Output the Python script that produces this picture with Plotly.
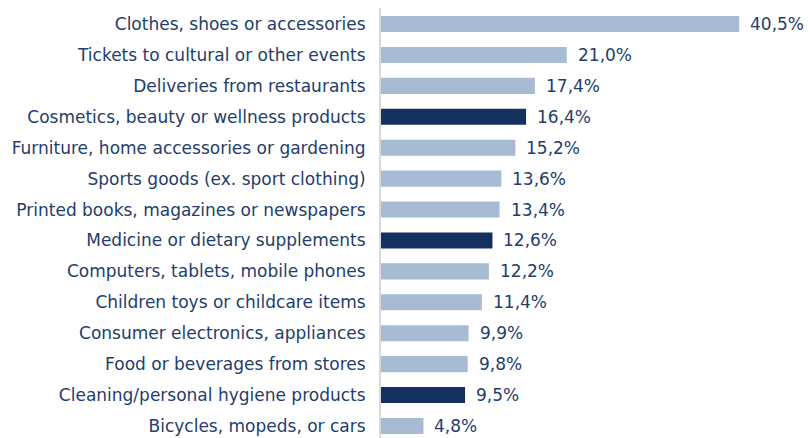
import plotly.graph_objects as go

categories = [
    "Clothes, shoes or accessories",
    "Tickets to cultural or other events",
    "Deliveries from restaurants",
    "Cosmetics, beauty or wellness products",
    "Furniture, home accessories or gardening",
    "Sports goods (ex. sport clothing)",
    "Printed books, magazines or newspapers",
    "Medicine or dietary supplements",
    "Computers, tablets, mobile phones",
    "Children toys or childcare items",
    "Consumer electronics, appliances",
    "Food or beverages from stores",
    "Cleaning/personal hygiene products",
    "Bicycles, mopeds, or cars",
]
values = [40.5, 21.0, 17.4, 16.4, 15.2, 13.6, 13.4, 12.6, 12.2, 11.4, 9.9, 9.8, 9.5, 4.8]
highlighted = [
    "Cosmetics, beauty or wellness products",
    "Medicine or dietary supplements",
    "Cleaning/personal hygiene products",
]

LIGHT = "#a7bbd4"
DARK = "#14305f"
TEXT = "#233d6c"
FONT = "DejaVu Sans"

colors = [DARK if c in highlighted else LIGHT for c in categories]
labels = [f"{v:.1f}%".replace(".", ",") for v in values]

fig = go.Figure(
    go.Bar(
        x=values,
        y=categories,
        orientation="h",
        marker=dict(color=colors, line=dict(width=0)),
        width=0.52,
        hoverinfo="skip",
    )
)

for c, v, t in zip(categories, values, labels):
    fig.add_annotation(
        x=v, y=c, text=t, showarrow=False, xanchor="left", xshift=9,
        font=dict(family=FONT, size=17, color=TEXT),
    )

fig.update_layout(
    width=810,
    height=438,
    margin=dict(l=381, r=0, t=8, b=0),
    paper_bgcolor="white",
    plot_bgcolor="white",
    showlegend=False,
    font=dict(family=FONT, size=17, color=TEXT),
    xaxis=dict(range=[0, 48.5], visible=False, fixedrange=True),
    yaxis=dict(
        categoryorder="array",
        categoryarray=categories,
        range=[13.39, -0.52],
        showgrid=False,
        showline=True,
        linecolor="#d9d9d9",
        linewidth=2,
        ticks="",
        ticklabelstandoff=10,
        tickfont=dict(family=FONT, size=17, color=TEXT),
        fixedrange=True,
    ),
)

fig.write_html("out.html")
